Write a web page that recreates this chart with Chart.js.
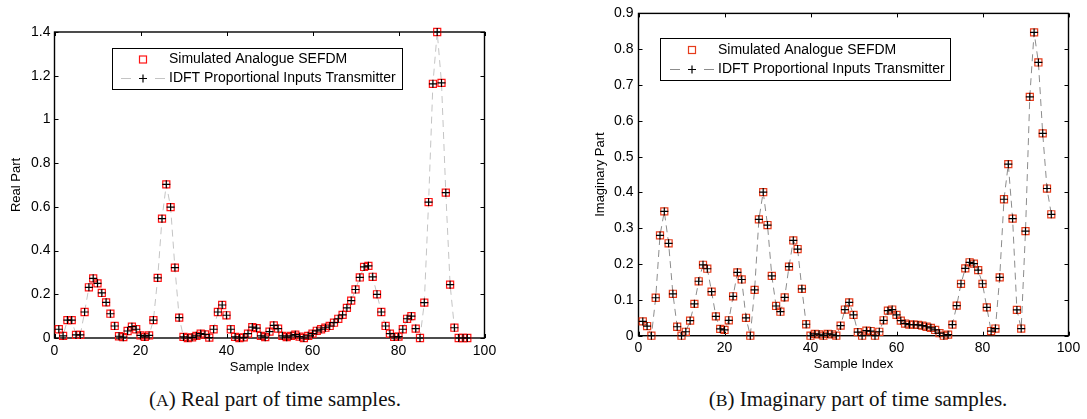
<!DOCTYPE html>
<html>
<head>
<meta charset="utf-8">
<script src="https://cdn.jsdelivr.net/npm/chart.js@4/dist/chart.umd.min.js"></script>
<style>
  html, body { margin: 0; padding: 0; background: #fff; }
  body { width: 1087px; height: 419px; position: relative; overflow: hidden; }
  canvas { position: absolute; top: 0; }
  #panelA { left: 0; }
  #panelB { left: 543px; }
  .caption {
    position: absolute; top: 387px;
    font-family: 'Liberation Serif', 'Times New Roman', serif;
    font-size: 21px; color: #111; white-space: nowrap;
    transform: translateX(-50%);
  }
  .caption .tag { font-size: 0.84em; }
</style>
</head>
<body>
<canvas id="panelA" width="543" height="380"></canvas>
<canvas id="panelB" width="544" height="380"></canvas>
<div class="caption" style="left:275px">(<span class="tag">A</span>) Real part of time samples.</div>
<div class="caption" style="left:858px">(<span class="tag">B</span>) Imaginary part of time samples.</div>

<script>
// Sample positions of the transmitted time-domain frame
const sampleIndex = [
  1, 2, 3, 4, 5, 6, 7, 8, 9, 10, 11, 12, 13, 14, 15, 16, 17, 18, 19, 20,
  21, 22, 23, 24, 25, 26, 27, 28, 29, 30, 31, 32, 33, 34, 35, 36, 37, 38, 39, 40,
  41, 42, 43, 44, 45, 46, 47, 48, 49, 50, 51, 52, 53, 54, 55, 56, 57, 58, 59, 60,
  61, 62, 63, 64, 65, 66, 67, 68, 69, 70, 71, 72, 73, 74, 75, 76, 77, 78, 79, 80,
  81, 82, 83, 84, 85, 86, 87, 88, 89, 90, 91, 92, 93, 94, 95, 96
];

// Real part (simulated analogue SEFDM and IDFT transmitter coincide)
const realPart = [
  0.040, 0.010, 0.082, 0.082, 0.014, 0.014, 0.119, 0.232, 0.273, 0.250,
  0.206, 0.163, 0.111, 0.055, 0.008, 0.004, 0.032, 0.052, 0.040, 0.012,
  0.005, 0.012, 0.082, 0.275, 0.546, 0.703, 0.599, 0.322, 0.093, 0.005,
  0.000, 0.003, 0.010, 0.020, 0.016, 0.002, 0.040, 0.119, 0.151, 0.104,
  0.040, 0.005, 0.000, 0.003, 0.020, 0.050, 0.045, 0.010, 0.004, 0.029,
  0.058, 0.043, 0.010, 0.004, 0.010, 0.015, 0.006, 0.000, 0.010, 0.020,
  0.033, 0.040, 0.047, 0.055, 0.070, 0.088, 0.106, 0.138, 0.171, 0.222,
  0.277, 0.325, 0.330, 0.280, 0.200, 0.119, 0.055, 0.020, 0.005, 0.006,
  0.040, 0.088, 0.100, 0.043, 0.000, 0.162, 0.622, 1.163, 1.400, 1.167,
  0.665, 0.244, 0.047, 0.000, 0.000, 0.000
];

// Imaginary part (simulated analogue SEFDM and IDFT transmitter coincide)
const imagPart = [
  0.040, 0.027, 0.000, 0.106, 0.280, 0.347, 0.258, 0.117, 0.025, 0.000,
  0.011, 0.042, 0.089, 0.152, 0.198, 0.187, 0.123, 0.054, 0.019, 0.016,
  0.043, 0.110, 0.177, 0.157, 0.050, 0.000, 0.128, 0.325, 0.401, 0.309,
  0.167, 0.083, 0.067, 0.107, 0.193, 0.266, 0.242, 0.131, 0.032, 0.000,
  0.005, 0.004, 0.000, 0.005, 0.004, 0.000, 0.028, 0.073, 0.093, 0.058,
  0.010, 0.000, 0.014, 0.013, 0.000, 0.011, 0.043, 0.070, 0.073, 0.058,
  0.042, 0.034, 0.031, 0.031, 0.030, 0.028, 0.025, 0.022, 0.016, 0.007,
  0.000, 0.003, 0.031, 0.084, 0.145, 0.188, 0.205, 0.201, 0.183, 0.145,
  0.079, 0.013, 0.020, 0.163, 0.381, 0.479, 0.327, 0.072, 0.020, 0.292,
  0.667, 0.847, 0.763, 0.565, 0.411, 0.339
];

// Tick values
const sampleTicks = [0, 20, 40, 60, 80, 100];
const realTicks = [0, 0.2, 0.4, 0.6, 0.8, 1, 1.2, 1.4];
const imagTicks = [0, 0.1, 0.2, 0.3, 0.4, 0.5, 0.6, 0.7, 0.8, 0.9];

const seriesNames = ['Simulated Analogue SEFDM', 'IDFT Proportional Inputs Transmitter'];

const SANS = "'Liberation Sans', Arial, Helvetica, sans-serif";

function toPoints(values) {
  return sampleIndex.map((x, i) => ({ x: x, y: values[i] }));
}

// Box around the plot area with inward tick marks on all four sides
const framePlugin = {
  id: 'frame',
  beforeDatasetsDraw(chart) {
    const { ctx, chartArea: a, scales } = chart;
    const L = 4;
    ctx.save();
    ctx.strokeStyle = '#000';
    ctx.lineWidth = 1;
    ctx.beginPath();
    scales.x.ticks.forEach(t => {
      const px = Math.round(scales.x.getPixelForValue(t.value)) + 0.5;
      ctx.moveTo(px, a.bottom); ctx.lineTo(px, a.bottom - L);
      ctx.moveTo(px, a.top); ctx.lineTo(px, a.top + L);
    });
    scales.y.ticks.forEach(t => {
      const py = Math.round(scales.y.getPixelForValue(t.value)) + 0.5;
      ctx.moveTo(a.left, py); ctx.lineTo(a.left + L, py);
      ctx.moveTo(a.right, py); ctx.lineTo(a.right - L, py);
    });
    ctx.stroke();
    ctx.lineWidth = 1.4;
    ctx.strokeRect(a.left, a.top, a.right - a.left, a.bottom - a.top);
    ctx.restore();
  }
};

// Boxed legend: square marker entry and dashed line + plus entry
const legendPlugin = {
  id: 'boxLegend',
  afterDraw(chart, args, o) {
    const ctx = chart.ctx;
    const ds = chart.data.datasets;
    ctx.save();
    ctx.fillStyle = '#fff';
    ctx.fillRect(o.x, o.y, o.w, o.h);
    ctx.strokeStyle = '#000';
    ctx.lineWidth = 1;
    ctx.strokeRect(o.x + 0.5, o.y + 0.5, o.w, o.h);

    ctx.font = '14px ' + SANS;
    ctx.fillStyle = '#000';
    ctx.textBaseline = 'middle';
    ctx.textAlign = 'left';

    // entry 1: square marker
    const sq = ds[1];
    ctx.strokeStyle = sq.borderColor;
    ctx.lineWidth = sq.borderWidth;
    ctx.strokeRect(o.mx - 3.5, o.y1 - 3.5, 7, 7);
    ctx.fillText(seriesNames[0], o.tx, o.y1);

    // entry 2: dashed line with plus marker
    const ln = ds[0];
    ctx.strokeStyle = ln.borderColor;
    ctx.lineWidth = 1;
    ctx.beginPath();
    ctx.moveTo(o.mx - 22, o.y2); ctx.lineTo(o.mx - 12, o.y2);
    ctx.moveTo(o.mx + 12, o.y2); ctx.lineTo(o.mx + 22, o.y2);
    ctx.stroke();
    const pl = ds[2];
    ctx.strokeStyle = pl.borderColor;
    ctx.lineWidth = pl.borderWidth;
    ctx.beginPath();
    ctx.moveTo(o.mx - 4, o.y2); ctx.lineTo(o.mx + 4, o.y2);
    ctx.moveTo(o.mx, o.y2 - 4); ctx.lineTo(o.mx, o.y2 + 4);
    ctx.stroke();
    ctx.fillStyle = '#000';
    ctx.fillText(seriesNames[1], o.tx, o.y2);
    ctx.restore();
  }
};

function makePanel(id, p) {
  const pts = toPoints(p.values);
  return new Chart(document.getElementById(id), {
    type: 'scatter',
    data: {
      datasets: [
        { // connecting dashed line of the IDFT transmitter
          data: pts, showLine: true, pointRadius: 0,
          borderColor: p.lineColor, borderWidth: 1, borderDash: [7, 5],
          fill: false, clip: false, order: 3
        },
        { // simulated analogue SEFDM
          label: seriesNames[0], data: pts, showLine: false,
          pointStyle: 'rect', pointRadius: 5, borderColor: p.squareColor,
          backgroundColor: 'rgba(0,0,0,0)', borderWidth: 1.2, clip: false, order: 2
        },
        { // IDFT proportional inputs transmitter
          label: seriesNames[1], data: pts, showLine: false,
          pointStyle: 'cross', pointRadius: 4, borderColor: '#000',
          backgroundColor: '#000', borderWidth: 1.2, clip: false, order: 1
        }
      ]
    },
    options: {
      responsive: false,
      animation: false,
      devicePixelRatio: 1,
      layout: { padding: { left: 0, top: p.top, right: p.right, bottom: 0 } },
      plugins: {
        legend: { display: false },
        tooltip: { enabled: false },
        boxLegend: p.legend
      },
      elements: { point: { hoverRadius: 5 } },
      scales: {
        x: {
          type: 'linear', min: 0, max: 100,
          afterBuildTicks: s => { s.ticks = sampleTicks.map(v => ({ value: v })); },
          afterFit: s => { s.height = p.xAxisHeight; },
          ticks: { color: '#000', font: { family: SANS, size: 14 }, padding: p.xTickPad,
                   callback: v => String(v), maxRotation: 0, autoSkip: false },
          grid: { display: false, drawTicks: false },
          border: { display: false },
          title: { display: true, text: 'Sample Index', color: '#000',
                   font: { family: SANS, size: 13 }, padding: { top: 0, bottom: p.xTitlePad } }
        },
        y: {
          type: 'linear', min: 0, max: p.yMax,
          afterBuildTicks: s => { s.ticks = p.yTicks.map(v => ({ value: v })); },
          afterFit: s => { s.width = p.yAxisWidth; },
          ticks: { color: '#000', font: { family: SANS, size: 14 }, padding: p.yTickPad,
                   callback: v => String(v), autoSkip: false },
          grid: { display: false, drawTicks: false },
          border: { display: false },
          title: { display: true, text: p.yTitle, color: '#000',
                   font: { family: SANS, size: 13 }, padding: { top: p.yTitlePad, bottom: 0 } }
        }
      }
    },
    plugins: [framePlugin, legendPlugin]
  });
}

makePanel('panelA', {
  values: realPart, yMax: 1.4, yTicks: realTicks, yTitle: 'Real Part',
  top: 32, right: 58.5, yAxisWidth: 54.5, xAxisHeight: 42,
  xTickPad: 5, xTitlePad: 5, yTickPad: 4, yTitlePad: 9,
  lineColor: '#c4c4c4', squareColor: '#ff1414',
  legend: { x: 112, y: 48, w: 290, h: 41, mx: 143, tx: 169, y1: 59.5, y2: 78.5 }
});

makePanel('panelB', {
  values: imagPart, yMax: 0.9, yTicks: imagTicks, yTitle: 'Imaginary Part',
  top: 12, right: 18.5, yAxisWidth: 95.5, xAxisHeight: 44.3,
  xTickPad: 4, xTitlePad: 8, yTickPad: 5, yTitlePad: 49.5,
  lineColor: '#8c8c8c', squareColor: '#e63c1c',
  legend: { x: 117, y: 38, w: 290, h: 42, mx: 149, tx: 175, y1: 50, y2: 69.5 }
});
</script>
</body>
</html>
